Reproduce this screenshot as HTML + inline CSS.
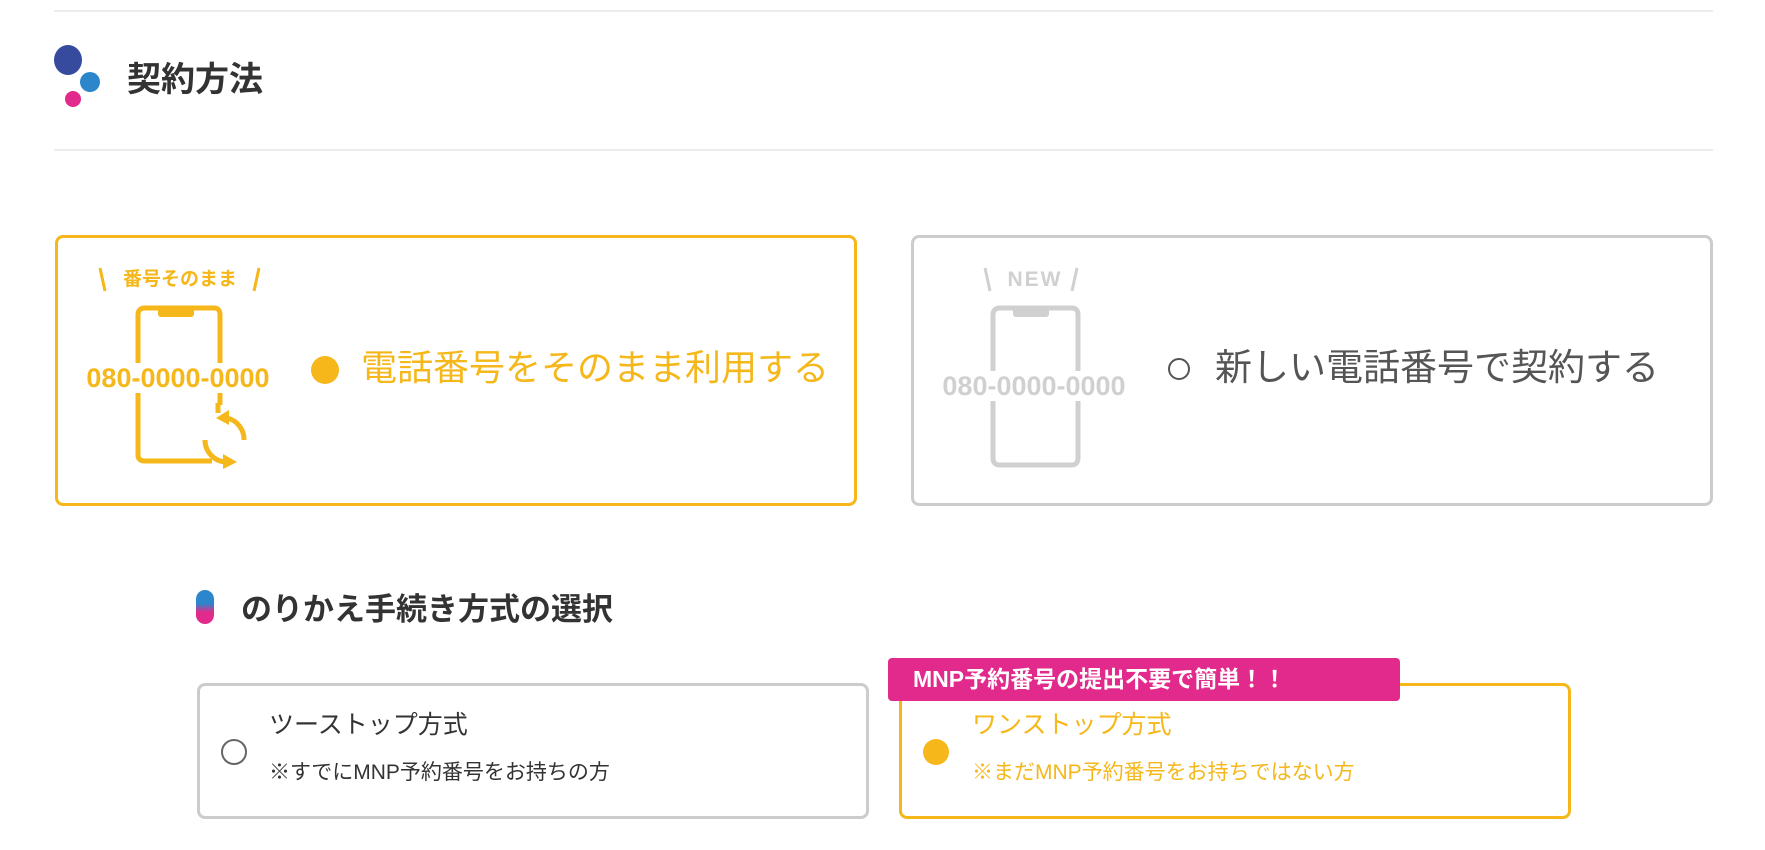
<!DOCTYPE html>
<html><head><meta charset="utf-8"><style>
body{margin:0;width:1765px;height:850px;background:#fff;position:relative;overflow:hidden;font-family:"Liberation Sans","Noto Sans CJK JP",sans-serif;}
.a{position:absolute;white-space:nowrap;}
.hr{position:absolute;left:54px;width:1659px;height:2px;background:#ececec;}
.card{position:absolute;box-sizing:border-box;border:3px solid #ccc;border-radius:8px;background:#fff;}
.y{border-color:#f5b71a;}
.dot{position:absolute;border-radius:50%;}
.num span{background:#fff;}
</style></head><body>
<div class="hr" style="top:10px"></div>
<div class="hr" style="top:149px"></div>
<div class="dot" style="left:54px;top:45px;width:28px;height:30px;background:#364a9e"></div>
<div class="dot" style="left:80px;top:72px;width:20px;height:20px;background:#2c86cc"></div>
<div class="dot" style="left:65px;top:91px;width:16px;height:16px;background:#e22a8c"></div>
<div class="a" style="left:127px;top:58px;font-size:34px;font-weight:bold;color:#333;line-height:44px">契約方法</div>

<div class="card y" style="left:55px;top:235px;width:802px;height:271px"></div>
<div class="card" style="left:911px;top:235px;width:802px;height:271px"></div>

<svg class="a" style="left:0;top:0" width="1765" height="850">
 <g fill="none" stroke="#f5b71a" stroke-width="5">
  <path d="M138 315 Q138 308 145 308 L214 308 Q220 308 220 315 L220 455 Q220 461 214 461 L145 461 Q138 461 138 455 Z"/>
 </g>
 <rect x="158" y="308" width="36" height="9" rx="3" fill="#f5b71a"/>
 <rect x="212" y="405" width="14" height="62" fill="#fff"/>
 <path d="M205 440 A22 22 0 0 0 226 462" fill="none" stroke="#f5b71a" stroke-width="5"/>
 <polygon points="223,454 237,462 223,469" fill="#f5b71a"/>
 <path d="M218 403 L218 413" stroke="#f5b71a" stroke-width="5"/>
 <path d="M227 418 A22 22 0 0 1 244 440" fill="none" stroke="#f5b71a" stroke-width="5"/>
 <polygon points="229,410 216,418 229,425" fill="#f5b71a"/>
 <path d="M100 268 L105 291 M259 268 L254 291" stroke="#f5b71a" stroke-width="3"/>
 <g fill="none" stroke="#d0d0d0" stroke-width="5">
  <path d="M993 315 Q993 308 1000 308 L1072 308 Q1078 308 1078 315 L1078 458 Q1078 465 1071 465 L1000 465 Q993 465 993 458 Z"/>
 </g>
 <rect x="1013" y="308" width="36" height="9" rx="3" fill="#d0d0d0"/>
 <path d="M985 268 L990 291 M1077 268 L1072 291" stroke="#d0d0d0" stroke-width="3"/>
</svg>
<div class="a num" style="left:82px;top:362px;width:192px;text-align:center;font-size:27px;font-weight:bold;color:#f5b71a;line-height:32px"><span>080-0000-0000</span></div>
<div class="a" style="left:110px;top:268px;width:140px;text-align:center;font-size:19px;font-weight:bold;color:#f5b71a;line-height:24px">番号そのまま</div>
<div class="dot" style="left:311px;top:356px;width:28px;height:28px;background:#f5b71a"></div>
<div class="a" style="left:361px;top:346px;font-size:36px;color:#f5b71a;line-height:44px">電話番号をそのまま利用する</div>

<div class="a num" style="left:938px;top:370px;width:192px;text-align:center;font-size:27px;font-weight:bold;color:#d0d0d0;line-height:32px"><span>080-0000-0000</span></div>
<div class="a" style="left:990px;top:268px;width:90px;text-align:center;font-size:21px;font-weight:bold;color:#d0d0d0;line-height:24px;letter-spacing:2px">NEW</div>
<div class="dot" style="left:1168px;top:358px;width:22px;height:22px;border:2px solid #555;box-sizing:border-box"></div>
<div class="a" style="left:1215px;top:346px;font-size:37px;color:#555;line-height:44px">新しい電話番号で契約する</div>

<div class="a" style="left:196px;top:590px;width:18px;height:34px;border-radius:9px;background:linear-gradient(180deg,#2c86cc 0%,#2c86cc 40%,#e22a8c 65%,#e22a8c 100%)"></div>
<div class="a" style="left:241px;top:590px;font-size:31px;font-weight:bold;color:#333;line-height:40px">のりかえ手続き方式の選択</div>

<div class="card" style="left:197px;top:683px;width:672px;height:136px"></div>
<div class="card y" style="left:899px;top:683px;width:672px;height:136px"></div>
<div class="a" style="left:888px;top:658px;width:512px;height:43px;background:#e22a8c;border-radius:4px"></div>
<div class="a" style="left:913px;top:660px;font-size:23px;font-weight:bold;color:#fff;line-height:38px">MNP予約番号の提出不要で簡単！！</div>

<div class="dot" style="left:221px;top:739px;width:26px;height:26px;border:2px solid #666;box-sizing:border-box"></div>
<div class="a" style="left:269px;top:709px;font-size:25px;color:#333;line-height:32px">ツーストップ方式</div>
<div class="a" style="left:269px;top:759px;font-size:21px;color:#333;line-height:28px">※すでにMNP予約番号をお持ちの方</div>
<div class="dot" style="left:923px;top:739px;width:26px;height:26px;background:#f5b71a"></div>
<div class="a" style="left:972px;top:709px;font-size:25px;color:#f5b71a;line-height:32px">ワンストップ方式</div>
<div class="a" style="left:972px;top:759px;font-size:21px;color:#f5b71a;line-height:28px">※まだMNP予約番号をお持ちではない方</div>
</body></html>
